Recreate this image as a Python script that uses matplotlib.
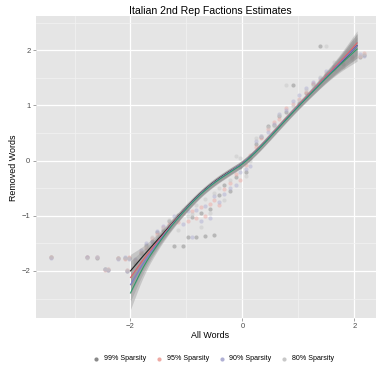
import matplotlib
matplotlib.use("Agg")
import matplotlib.pyplot as plt
import numpy as np

plt.rcParams['font.family'] = ['Liberation Sans', 'DejaVu Sans']

# estimates: "All Words" on x, "Removed Words" per sparsity level on y
all_words = [-3.42, -2.78, -2.59, -2.46, -2.41, -2.23, -2.10, -2.07, -2.02, -1.92,
             -1.82, -1.72, -1.62, -1.52, -1.42, -1.32, -1.22, -1.15, -1.06, -0.98,
             -0.90, -0.82, -0.74, -0.66, -0.58, -0.50, -0.42, -0.32, -0.22, -0.12,
             -0.04, 0.06, 0.14, 0.24, 0.34, 0.46, 0.56, 0.66, 0.78, 0.90,
             1.02, 1.14, 1.26, 1.38, 1.50, 1.64, 1.80, 1.96, 2.10, 2.18]

removed_99 = [-1.75, -1.75, -1.76, -1.97, -1.98, -1.77, -1.76, -2.00, -1.77, -1.85,
              -1.68, -1.53, -1.45, -1.30, -1.25, -1.10, -1.55, -0.98, -1.55, -1.38,
              -1.02, -1.38, -0.95, -1.37, -0.88, -1.35, -0.62, -0.45, -0.55, -0.30,
              -0.12, -0.20, 0.05, 0.30, 0.42, 0.62, 0.64, 0.80, 0.88, 1.36,
              1.05, 1.22, 1.38, 2.07, 1.55, 1.65, 1.75, 1.85, 1.88, 1.92]
removed_95 = [-1.75, -1.74, -1.75, -1.98, -1.96, -1.76, -1.78, -1.99, -1.75, -1.80,
              -1.66, -1.58, -1.40, -1.34, -1.20, -1.15, -1.08, -1.12, -0.95, -1.10,
              -0.92, -1.05, -0.85, -1.00, -0.78, -0.72, -0.80, -0.52, -0.40, -0.25,
              -0.35, -0.08, 0.10, 0.25, 0.40, 0.58, 0.70, 0.76, 0.95, 1.02,
              1.12, 1.25, 1.40, 1.45, 1.58, 1.70, 1.80, 1.88, 1.90, 1.95]
removed_90 = [-1.76, -1.75, -1.74, -1.96, -1.99, -1.78, -1.75, -2.01, -1.78, -1.78,
              -1.62, -1.50, -1.48, -1.28, -1.18, -1.20, -1.00, -1.05, -1.15, -0.92,
              -1.38, -0.90, -1.10, -0.82, -1.05, -0.65, -0.75, -0.60, -0.50, -0.45,
              -0.20, -0.15, -0.10, 0.35, 0.45, 0.52, 0.66, 0.85, 0.92, 1.08,
              1.18, 1.32, 1.42, 1.50, 1.62, 1.72, 1.82, 1.90, 1.93, 1.90]
removed_80 = [-1.75, -1.76, -1.75, -1.97, -1.97, -1.76, -1.77, -1.98, -1.76, -1.82,
              -1.70, -1.56, -1.38, -1.36, -1.22, -1.08, -1.12, -1.25, -0.90, -1.00,
              -0.96, -0.80, -1.20, -0.70, -0.95, -0.58, -0.50, -0.72, -0.35, 0.08,
              0.05, -0.28, 0.00, 0.40, 0.44, 0.60, 0.62, 0.82, 1.36, 0.98,
              1.10, 1.28, 1.35, 1.52, 2.07, 1.78, 1.70, 1.82, 1.90, 1.93]

# smoothed fits
smooth_x = [-2.0, -1.75, -1.5, -1.25, -1.0, -0.75, -0.5, -0.25, 0.0, 0.25, 0.5, 0.75,
            1.0, 1.25, 1.5, 1.75, 2.05]
fit_99 = [-2.00, -1.70, -1.42, -1.13, -0.85, -0.59, -0.38, -0.21, -0.06, 0.17, 0.44, 0.72,
          0.99, 1.25, 1.51, 1.76, 2.08]
fit_95 = [-2.12, -1.76, -1.45, -1.14, -0.86, -0.60, -0.39, -0.22, -0.06, 0.17, 0.45, 0.73,
          1.00, 1.26, 1.53, 1.79, 2.13]
fit_90 = [-2.25, -1.82, -1.47, -1.15, -0.86, -0.60, -0.39, -0.22, -0.06, 0.17, 0.44, 0.72,
          0.99, 1.25, 1.51, 1.77, 2.08]
fit_80 = [-2.40, -1.88, -1.50, -1.16, -0.87, -0.61, -0.40, -0.23, -0.07, 0.16, 0.43, 0.71,
          0.98, 1.24, 1.50, 1.74, 2.02]
fit_se = [0.30, 0.16, 0.10, 0.08, 0.07, 0.06, 0.06, 0.06, 0.06, 0.06, 0.06, 0.06,
          0.06, 0.07, 0.09, 0.13, 0.22]

labels = ["99% Sparsity", "95% Sparsity", "90% Sparsity", "80% Sparsity"]
point_colors = ["#8a8a8a", "#eeaaa4", "#b0b0d4", "#c8c8c8"]
line_colors = ["#222222", "#e0606a", "#7b7bd0", "#2f9a6a"]


def chaikin(x, y, n=3):
    # corner cutting so the fitted curves look smooth
    p = np.column_stack([x, y])
    for _ in range(n):
        q = 0.75 * p[:-1] + 0.25 * p[1:]
        r = 0.25 * p[:-1] + 0.75 * p[1:]
        mid = np.empty((2 * len(q), 2))
        mid[0::2] = q
        mid[1::2] = r
        p = np.vstack([p[:1], mid, p[-1:]])
    return p[:, 0], p[:, 1]


fig = plt.figure(figsize=(3.78, 3.70), dpi=100)
ax = fig.add_axes([0.095, 0.141, 0.9, 0.816])
ax.set_facecolor("#e5e5e5")
for s in ax.spines.values():
    s.set_visible(False)

ax.set_xlim(-3.69, 2.39)
ax.set_ylim(-2.85, 2.62)
ax.set_xticks([-2, 0, 2])
ax.set_yticks([-2, -1, 0, 1, 2])
ax.set_xticks([-3, -1, 1], minor=True)
ax.set_yticks([-2.5, -1.5, -0.5, 0.5, 1.5, 2.5], minor=True)
ax.grid(which="major", color="white", linewidth=0.9)
ax.grid(which="minor", color="#f2f2f2", linewidth=0.5)
ax.set_axisbelow(True)
ax.tick_params(which="major", length=2.5, width=0.5, color="#7f7f7f",
               labelsize=5.5, labelcolor="#4d4d4d", pad=1.5)
ax.tick_params(which="minor", length=0)
ax.set_xticklabels(["\u22122", "0", "2"])
ax.set_yticklabels(["\u22122", "\u22121", "0", "1", "2"])

series = [removed_99, removed_95, removed_90, removed_80]
for ys, c, lab in zip(series, point_colors, labels):
    ax.scatter(all_words, ys, s=9, color=c, alpha=0.5, linewidths=0, label=lab, zorder=2)

fits = [fit_99, fit_95, fit_90, fit_80]
for f in fits:
    f = np.array(f)
    lx, lo = chaikin(smooth_x, f - np.array(fit_se))
    _, hi = chaikin(smooth_x, f + np.array(fit_se))
    ax.fill_between(lx, lo, hi, color="#8c8c8c", alpha=0.35, linewidth=0, zorder=3)
for f, c in zip(fits, line_colors):
    lx, ly = chaikin(smooth_x, f)
    ax.plot(lx, ly, color=c, linewidth=0.8, zorder=4)

fig.text(0.556, 0.97, "Italian 2nd Rep Factions Estimates", ha="center", va="center",
         fontsize=7.6)
fig.text(0.556, 0.092, "All Words", ha="center", va="center", fontsize=6.4)
fig.text(0.037, 0.546, "Removed Words", ha="center", va="center", rotation=90, fontsize=6.4)

leg = fig.legend(loc="center", bbox_to_anchor=(0.56, 0.03), ncol=4, frameon=False,
                 fontsize=5.1, handletextpad=0.1, columnspacing=0.8, markerscale=1.0,
                 scatterpoints=1)
for h in leg.legend_handles:
    h.set_alpha(1)

fig.savefig("out.png", dpi=100)
